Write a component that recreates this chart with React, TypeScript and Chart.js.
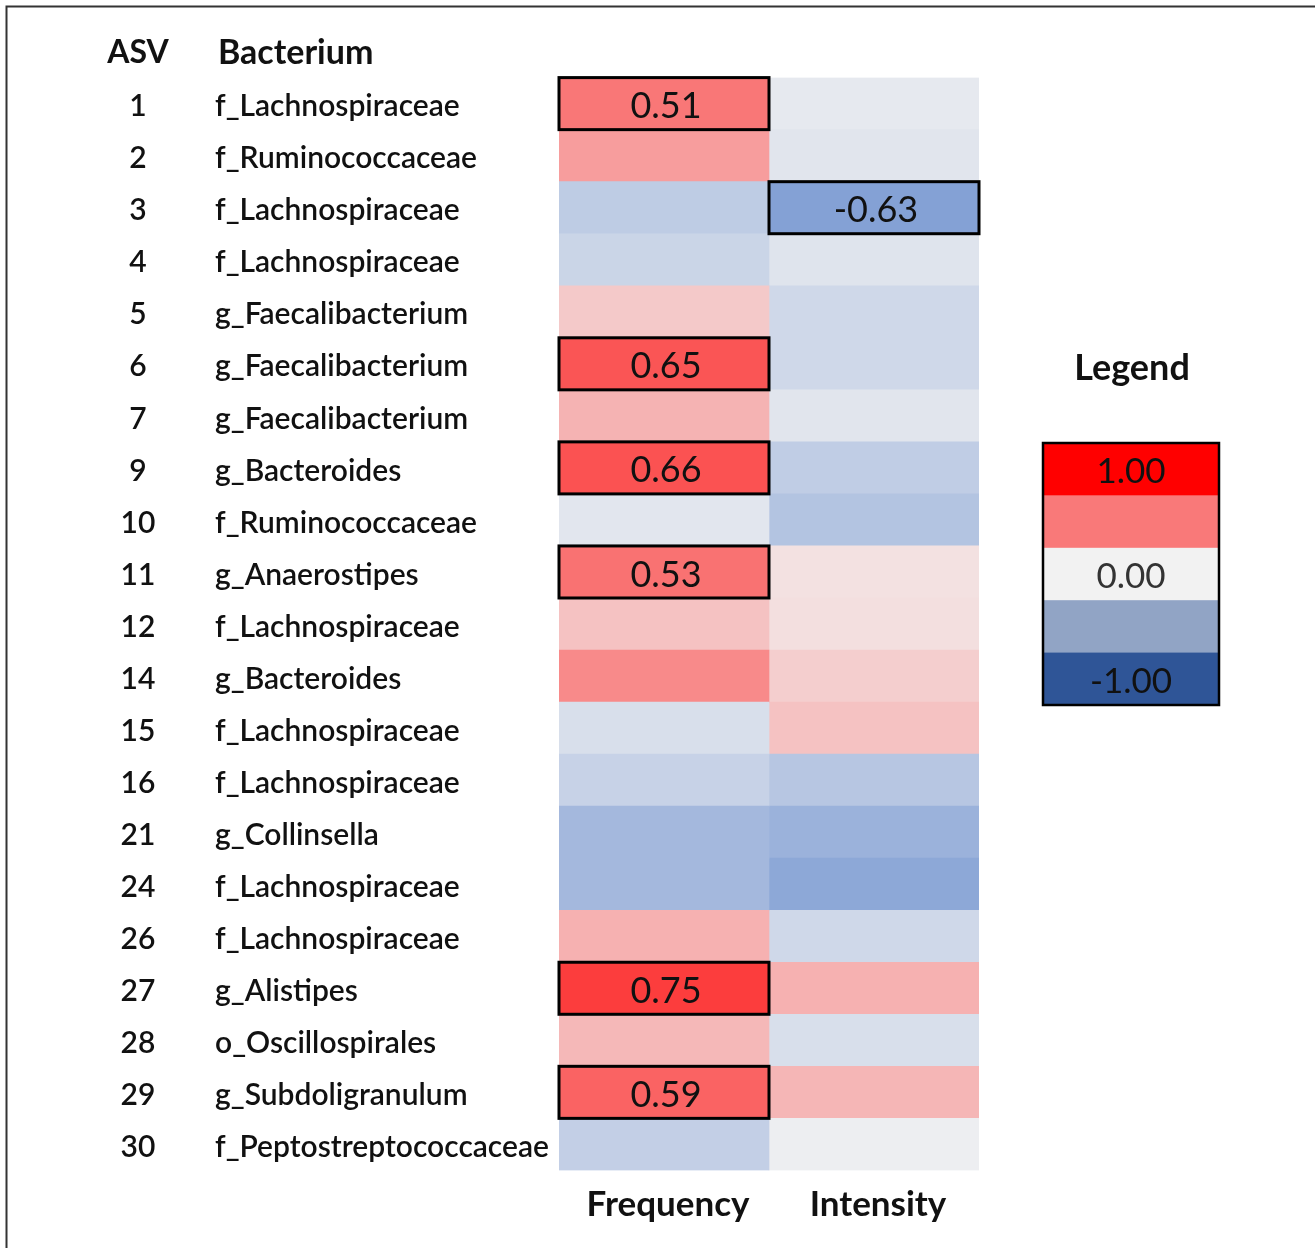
import React, { useEffect, useRef } from 'react';
import { Chart, registerables } from 'chart.js';

Chart.register(...registerables);

// ---------------- data ----------------
const asvIds = ['1', '2', '3', '4', '5', '6', '7', '9', '10', '11', '12', '14', '15', '16', '21', '24', '26', '27', '28', '29', '30'];
const bacteria = [
  'f_Lachnospiraceae', 'f_Ruminococcaceae', 'f_Lachnospiraceae', 'f_Lachnospiraceae',
  'g_Faecalibacterium', 'g_Faecalibacterium', 'g_Faecalibacterium', 'g_Bacteroides',
  'f_Ruminococcaceae', 'g_Anaerostipes', 'f_Lachnospiraceae', 'g_Bacteroides',
  'f_Lachnospiraceae', 'f_Lachnospiraceae', 'g_Collinsella', 'f_Lachnospiraceae',
  'f_Lachnospiraceae', 'g_Alistipes', 'o_Oscillospirales', 'g_Subdoligranulum',
  'f_Peptostreptococcaceae',
];
const columns = ['Frequency', 'Intensity'];
const frequency = [0.51, 0.35, -0.30, -0.23, 0.17, 0.65, 0.26, 0.66, -0.09, 0.53, 0.20, 0.43, -0.15, -0.25, -0.45, -0.45, 0.27, 0.75, 0.24, 0.59, -0.27];
const intensity = [-0.07, -0.10, -0.63, -0.11, -0.20, -0.20, -0.10, -0.29, -0.36, 0.07, 0.08, 0.15, 0.20, -0.34, -0.50, -0.58, -0.20, 0.27, -0.15, 0.25, -0.03];
// cells shown with their value and a black frame
const frequencyLabelled = [true, false, false, false, false, true, false, true, false, true, false, false, false, false, false, false, false, true, false, true, false];
const intensityLabelled = [false, false, true, false, false, false, false, false, false, false, false, false, false, false, false, false, false, false, false, false, false];
const legendValues = [1.0, 0.5, 0.0, -0.5, -1.0];
const legendTickLabels = ['1.00', '', '0.00', '', '-1.00'];

// ---------------- styles ----------------
const FONT = 'Lato';
const TEXT = '#111111';
const RED = [255, 0, 0];
const MID = [242, 242, 242];
const BLUE = [68, 114, 196];
const LEGEND_BLUE = [47, 85, 151];

function mix(a: number[], b: number[], t: number) {
  return `rgb(${a.map((c, i) => Math.round(c + (b[i] - c) * t)).join(',')})`;
}
function cellColor(v: number) {
  const t = Math.min(1, Math.abs(v));
  return mix(MID, v >= 0 ? RED : BLUE, t);
}
function legendColor(v: number) {
  const t = Math.min(1, Math.abs(v));
  return mix(MID, v >= 0 ? RED : LEGEND_BLUE, t);
}

const rowFont = { family: FONT, size: 30, weight: '600' as any };

function widest(labels: string[], f: string) {
  const ctx = document.createElement('canvas').getContext('2d')!;
  ctx.font = f;
  return Math.max(...labels.map((l) => ctx.measureText(l).width));
}

const decorPlugin = {
  id: 'decor',
  afterDatasetsDraw(chart: any) {
    const ctx = chart.ctx;
    const values = [frequency, intensity];
    const flags = [frequencyLabelled, intensityLabelled];
    ctx.save();
    chart.data.datasets.forEach((_: any, di: number) => {
      const meta = chart.getDatasetMeta(di);
      meta.data.forEach((el: any, i: number) => {
        if (!flags[di][i]) return;
        const v = values[di][i];
        const p = el.getProps(['x', 'y', 'base', 'height'], true);
        const left = Math.min(p.base, p.x);
        const right = Math.max(p.base, p.x);
        const top = p.y - p.height / 2;
        ctx.lineWidth = 3;
        ctx.strokeStyle = '#000';
        ctx.strokeRect(left, top, right - left, p.height);
        ctx.fillStyle = TEXT;
        ctx.font = `normal 36px ${FONT}`;
        ctx.textAlign = 'center';
        ctx.textBaseline = 'middle';
        ctx.fillText(v.toFixed(2), (left + right) / 2 + 2, p.y + 3);
      });
    });
    ctx.restore();
  },
  afterDraw(chart: any) {
    const ctx = chart.ctx;
    ctx.save();
    // frame
    ctx.strokeStyle = '#333';
    ctx.lineWidth = 2;
    ctx.beginPath();
    ctx.moveTo(6.5, chart.height);
    ctx.lineTo(6.5, 6.5);
    ctx.lineTo(chart.width, 6.5);
    ctx.stroke();

    // headers
    ctx.fillStyle = TEXT;
    ctx.textBaseline = 'middle';
    ctx.textAlign = 'center';
    ctx.font = `bold 32px ${FONT}`;
    ctx.fillText('ASV', 138, 53);
    ctx.textAlign = 'left';
    ctx.font = `bold 34px ${FONT}`;
    ctx.fillText('Bacterium', 218, 53);

    // legend
    ctx.textAlign = 'center';
    ctx.font = `bold 36px ${FONT}`;
    ctx.fillText('Legend', 1132, 368);
    const lx = 1043, ly = 443, lw = 176, lh = 262;
    const bh = lh / legendValues.length;
    legendValues.forEach((v, i) => {
      ctx.fillStyle = legendColor(v);
      ctx.fillRect(lx, ly + i * bh, lw, bh + 0.5);
    });
    ctx.font = `normal 35px ${FONT}`;
    legendValues.forEach((_, i) => {
      if (!legendTickLabels[i]) return;
      ctx.fillStyle = i === 2 ? '#333' : TEXT;
      ctx.fillText(legendTickLabels[i], lx + lw / 2, ly + i * bh + bh / 2 + 3);
    });
    ctx.strokeStyle = '#000';
    ctx.lineWidth = 2.5;
    ctx.strokeRect(lx, ly, lw, lh);
    ctx.restore();
  },
};

export default function App() {
  const ref = useRef<HTMLCanvasElement>(null);
  useEffect(() => {
    if (!ref.current) return;
    const asvFontStr = `600 30px ${FONT}`;
    const asvPad = 215 - 138 - widest(asvIds, asvFontStr) / 2;
    const values = [frequency, intensity];
    const chart = new Chart(ref.current, {
      type: 'bar',
      data: {
        labels: bacteria,
        datasets: columns.map((col, ci) => ({
          label: col,
          data: values[ci].map(() => [ci, ci + 1]),
          backgroundColor: values[ci].map(cellColor),
          borderWidth: 0,
          barPercentage: 1,
          categoryPercentage: 1,
          grouped: false,
        })),
      } as any,
      options: {
        indexAxis: 'y',
        responsive: false,
        animation: false,
        layout: { padding: { left: 0, top: 76, right: 336, bottom: 0 } },
        plugins: { legend: { display: false }, tooltip: { enabled: false } },
        scales: {
          x: {
            type: 'linear',
            min: 0,
            max: 2,
            position: 'bottom',
            grid: { display: false, drawTicks: false },
            border: { display: false },
            afterBuildTicks: (s: any) => {
              s.ticks = [{ value: 0.5 }, { value: 1.5 }];
            },
            afterFit: (s: any) => {
              s.height = 76;
            },
            ticks: {
              callback: (v: any) => columns[Math.floor(Number(v))],
              font: { family: FONT, size: 35, weight: 'bold' },
              color: TEXT,
              padding: 13,
              labelOffset: 4,
              autoSkip: false,
              maxRotation: 0,
            },
          },
          y: {
            type: 'category',
            position: 'left',
            offset: true,
            weight: 0,
            grid: { display: false, drawTicks: false },
            border: { display: false },
            afterFit: (s: any) => {
              s.width = 344;
            },
            ticks: { crossAlign: 'far', padding: 0, font: rowFont, color: TEXT, labelOffset: 3, autoSkip: false },
          },
          y2: {
            type: 'category',
            labels: asvIds,
            position: 'left',
            offset: true,
            weight: 1,
            grid: { display: false, drawTicks: false },
            border: { display: false },
            afterFit: (s: any) => {
              s.width = 215;
            },
            ticks: { crossAlign: 'center', padding: asvPad, font: rowFont, color: TEXT, labelOffset: 3, autoSkip: false },
          },
        },
      } as any,
      plugins: [decorPlugin],
    });
    return () => chart.destroy();
  }, []);
  return (
    <div style={{ position: 'absolute', left: 0, top: 0, width: 1315, height: 1248, background: '#fff' }}>
      <canvas ref={ref} width={1315} height={1248} style={{ display: 'block' }} />
    </div>
  );
}
